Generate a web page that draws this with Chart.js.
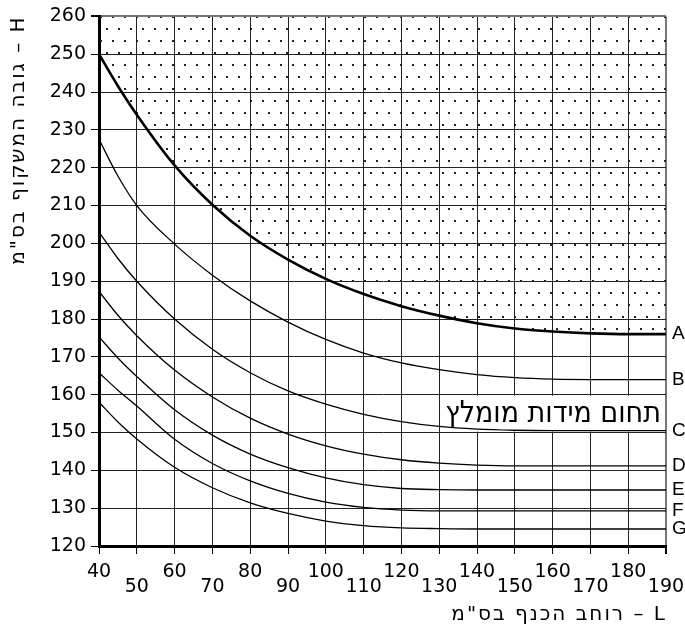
<!DOCTYPE html>
<html>
<head>
<meta charset="utf-8">
<script src="https://cdn.jsdelivr.net/npm/chart.js@4"></script>
<style>
  html, body { margin: 0; padding: 0; background: #fff; }
</style>
</head>
<body>
<canvas id="myChart" width="685" height="628"></canvas>
<script>
// L (cm) values where the curves were read
var widths = [40, 45, 50, 60, 70, 80, 90, 100, 110, 120, 130, 140, 150, 160, 170, 180, 190];

// H (cm) for each curve
var curveA = [250, 241.6, 234, 220.6, 210.2, 202, 195.7, 190.6, 186.6, 183.4, 180.9, 178.9, 177.5, 176.7, 176.2, 176, 176];
var curveB = [227.5, 217.8, 210, 199.8, 191.6, 184.8, 179.2, 174.6, 171, 168.4, 166.6, 165.3, 164.5, 164.1, 164, 164, 164];
var curveC = [203, 196, 190, 180, 172, 165.8, 161, 157.5, 154.8, 152.9, 151.6, 150.9, 150.6, 150.5, 150.5, 150.5, 150.5];
var curveD = [187.3, 181, 175.6, 166.5, 159.4, 153.8, 149.6, 146.5, 144.3, 142.8, 141.9, 141.4, 141.2, 141.2, 141.2, 141.2, 141.2];
var curveE = [175.3, 169.7, 164.8, 156, 149.3, 144.3, 140.7, 138, 136.2, 135.2, 134.9, 134.8, 134.8, 134.8, 134.8, 134.8, 134.8];
var curveF = [165.8, 161.2, 157, 148.2, 141.8, 137.2, 133.9, 131.6, 130.2, 129.5, 129.3, 129.3, 129.3, 129.3, 129.3, 129.3, 129.3];
var curveG = [158, 152.8, 148.3, 140.8, 135.4, 131.4, 128.6, 126.6, 125.4, 124.8, 124.6, 124.5, 124.5, 124.5, 124.5, 124.5, 124.5];

var curveNames = ['A', 'B', 'C', 'D', 'E', 'F', 'G'];
var curveValues = [curveA, curveB, curveC, curveD, curveE, curveF, curveG];

var boxText = 'תחום מידות מומלץ';
var xTitle = 'רוחב הכנף בס"מ – L';
var yTitle = 'גובה המשקוף בס"מ – H';

var ctx = document.getElementById('myChart').getContext('2d');

function dotPattern() {
  var c = document.createElement('canvas');
  c.width = 24;
  c.height = 24;
  var g = c.getContext('2d');
  g.fillStyle = '#222';
  [[10, 4], [22, 4], [4, 16], [16, 16]].forEach(function (p) {
    g.fillRect(p[0], p[1], 2, 2);
  });
  return ctx.createPattern(c, 'repeat');
}

function toPoints(values) {
  return values.map(function (v, i) { return { x: widths[i], y: v }; });
}

var datasets = curveValues.map(function (values, i) {
  return {
    label: curveNames[i],
    data: toPoints(values),
    borderColor: '#000',
    borderWidth: i === 0 ? 2.6 : 1.3,
    pointRadius: 0,
    cubicInterpolationMode: 'monotone',
    fill: i === 0 ? 'end' : false,
    backgroundColor: i === 0 ? dotPattern() : 'transparent'
  };
});

var curveLabels = {
  id: 'curveLabels',
  beforeDatasetsDraw: function (chart) {
    var x = chart.scales.x, y = chart.scales.y, c = chart.ctx;
    var left = x.getPixelForValue(130), right = x.getPixelForValue(190);
    var top = y.getPixelForValue(160), bottom = y.getPixelForValue(150);
    c.save();
    c.fillStyle = '#fff';
    c.fillRect(left + 1, top + 1, right - left - 2, bottom - top - 2);
    c.fillStyle = '#000';
    c.font = '30px "DejaVu Sans Condensed", "DejaVu Sans"';
    c.textAlign = 'right';
    c.textBaseline = 'middle';
    c.fillText(boxText, right - 5, (top + bottom) / 2 + 1);
    c.restore();
  },
  afterDatasetsDraw: function (chart) {
    var x = chart.scales.x, y = chart.scales.y, c = chart.ctx;
    c.save();
    c.fillStyle = '#000';
    c.font = '19px "Liberation Sans"';
    c.textAlign = 'left';
    c.textBaseline = 'middle';
    curveValues.forEach(function (values, i) {
      var last = values.length - 1;
      c.fillText(curveNames[i], x.getPixelForValue(widths[last]) + 6, y.getPixelForValue(values[last]));
    });
    c.restore();
  },
  afterDraw: function (chart) {
    // axis titles, drawn here so the letters can be spaced like the original
    var a = chart.chartArea, c = chart.ctx;
    c.save();
    c.fillStyle = '#000';
    c.font = '20px "DejaVu Sans"';
    c.letterSpacing = '2px';
    c.textAlign = 'right';
    c.textBaseline = 'middle';
    c.fillText(xTitle, a.right + 1, 615);
    c.translate(19, a.top - 1);
    c.rotate(-Math.PI / 2);
    c.fillText(yTitle, 0, 0);
    c.restore();
  }
};

new Chart(ctx, {
  type: 'line',
  data: { datasets: datasets },
  plugins: [curveLabels],
  options: {
    responsive: false,
    animation: false,
    layout: { padding: { top: 16, right: 19, left: 0, bottom: 0 } },
    plugins: {
      legend: { display: false },
      tooltip: { enabled: false }
    },
    scales: {
      x: {
        type: 'linear',
        min: 40,
        max: 190,
        afterFit: function (scale) {
          scale.height = 82;
          scale.paddingLeft = 0;
          scale.paddingRight = 0;
        },
        grid: {
          color: function (c) { return c.tick && c.tick.value === 190 ? '#777' : '#222'; },
          lineWidth: function (c) { return c.tick && c.tick.value === 190 ? 2 : 1; },
          tickLength: 8,
          tickColor: '#000'
        },
        border: { color: '#000', width: 3 },
        ticks: {
          stepSize: 10,
          maxRotation: 0,
          autoSkip: false,
          padding: 11,
          color: '#000',
          font: { family: '"DejaVu Sans"', size: 19, lineHeight: 0.79 },
          callback: function (v) {
            return (v / 10) % 2 === 0 ? [String(v), ''] : ['', String(v)];
          }
        }
      },
      y: {
        min: 120,
        max: 260,
        afterFit: function (scale) { scale.width = 99; },
        grid: {
          color: function (c) { return c.tick && c.tick.value === 260 ? '#777' : '#222'; },
          lineWidth: function (c) { return c.tick && c.tick.value === 260 ? 2 : 1; },
          tickLength: 8,
          tickColor: '#000'
        },
        border: { color: '#000', width: 3 },
        ticks: {
          stepSize: 10,
          padding: 5,
          color: '#000',
          font: { family: '"DejaVu Sans"', size: 19 }
        }
      }
    }
  }
});
</script>
</body>
</html>
